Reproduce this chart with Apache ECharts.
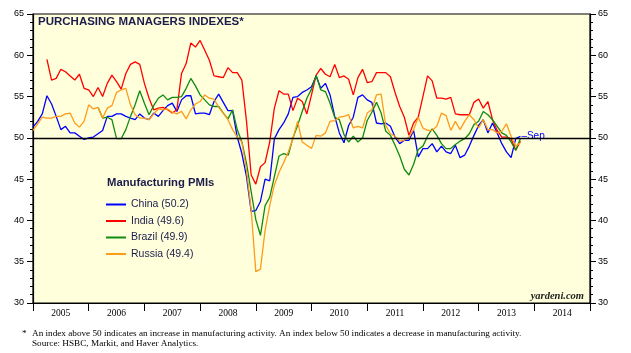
<!DOCTYPE html>
<html>
<head>
<meta charset="utf-8">
<script src="https://cdn.jsdelivr.net/npm/echarts@6/dist/echarts.min.js"></script>
<style>
  html, body { margin: 0; padding: 0; background: #fff; }
  #chart { width: 631px; height: 353px; }
</style>
</head>
<body>
<div id="chart"></div>
<script>
// monthly readings, first entry = Dec 2004, plotted at month end
const FIRST_YEAR = 2004;
const FIRST_MONTH = 12;

const yearLabels = ["2005", "2006", "2007", "2008", "2009", "2010", "2011", "2012", "2013", "2014"];

const china = [
  51.3,
  52.0, 52.9, 55.1, 54.1, 52.6, 51.0, 51.4, 50.6, 50.6, 50.2, 49.8, 50.0, // 2005
  50.1, 50.5, 50.9, 52.6, 52.6, 52.9, 52.9, 52.6, 52.4, 52.2, 52.9, 52.4, // 2006
  52.2, 53.0, 52.6, 53.3, 53.9, 54.2, 53.2, 54.6, 55.1, 55.1, 52.9, 53.0, // 2007
  53.0, 52.8, 54.4, 55.3, 54.3, 53.3, 53.3, 50.1, 48.1, 45.3, 41.1, 41.2, // 2008
  42.3, 45.0, 44.8, 49.9, 51.0, 51.8, 52.9, 54.9, 55.0, 55.5, 55.8, 56.2, // 2009
  57.5, 56.0, 56.6, 55.2, 52.6, 50.6, 49.4, 51.5, 52.5, 54.9, 55.2, 54.6, // 2010
  54.3, 51.8, 51.7, 51.8, 51.4, 50.1, 49.3, 49.7, 49.7, 50.9, 47.7, 48.7, // 2011
  48.7, 49.3, 48.3, 49.0, 48.3, 48.1, 49.1, 47.6, 47.9, 49.0, 50.3, 51.5, // 2012
  52.2, 50.6, 51.8, 50.6, 49.3, 48.3, 47.6, 49.9, 50.2                    // 2013
];

const india = [
  null,
  null, null, 59.5, 57.0, 57.2, 58.3, 58.0, 57.5, 57.0, 57.7, 56.0, 55.8,
  55.0, 56.1, 55.0, 56.6, 57.6, 56.8, 55.9, 57.8, 58.9, 59.2, 58.9, 56.6,
  54.8, 53.4, 53.6, 53.7, 53.4, 53.0, 53.4, 57.8, 59.0, 61.5, 61.0, 61.8,
  60.6, 59.4, 57.5, 57.4, 57.3, 58.5, 57.9, 57.9, 57.0, 52.0, 45.5, 44.4,
  46.5, 47.0, 49.5, 53.6, 55.7, 55.3, 55.3, 53.3, 54.8, 54.4, 52.9, 55.2,
  57.6, 58.4, 57.7, 57.4, 58.9, 57.3, 57.5, 57.1, 55.2, 57.3, 58.3, 56.7,
  56.8, 57.9, 57.9, 57.9, 57.4, 55.5, 53.8, 52.5, 50.3, 51.8, 52.5, 55.0,
  57.5, 56.9, 54.8, 54.8, 54.7, 54.9, 52.9, 52.8, 52.8, 52.8, 54.3, 54.7,
  53.6, 54.4, 52.2, 50.9, 50.1, 50.1, 49.9, 48.5, 49.6
];

const brazil = [
  null,
  null, null, null, null, null, null, null, null, null, null, null, null,
  null, 53.7, 52.4, 52.5, 52.2, 49.9, 49.9, 51.0, 52.6, 54.0, 55.7, 54.2,
  52.8, 53.9, 54.8, 55.2, 54.6, 54.9, 54.9, 55.0, 56.0, 57.2, 56.3, 55.2,
  54.6, 54.0, 53.8, 53.8, 53.0, 52.3, 53.4, 51.0, 49.5, 46.9, 43.5, 40.1,
  38.2, 41.8, 42.8, 45.3, 47.8, 48.1, 47.9, 50.0, 51.5, 53.2, 54.8, 55.9,
  57.6, 55.8, 55.6, 54.2, 52.5, 52.2, 50.4, 49.5, 50.2, 49.5, 50.0, 52.1,
  53.1, 54.3, 53.0, 50.8, 50.3, 49.1, 47.8, 46.2, 45.5, 46.8, 48.6, 49.0,
  50.2, 51.1, 50.3, 49.3, 48.7, 48.7, 49.2, 49.6, 49.9, 50.5, 51.6, 52.0,
  53.2, 52.8, 52.2, 51.4, 50.6, 50.3, 49.5, 48.5, 49.9
];

const russia = [
  50.9,
  51.7, 52.5, 52.4, 52.4, 52.6, 52.6, 52.9, 53.0, 51.8, 51.3, 52.0, 54.0,
  53.5, 53.7, 52.4, 53.6, 53.9, 55.5, 55.8, 56.0, 54.0, 52.8, 52.4, 52.4,
  52.2, 52.9, 53.5, 53.4, 53.5, 53.1, 52.9, 53.2, 52.3, 53.4, 54.1, 54.4,
  55.2, 54.8, 54.7, 53.7, 53.0, 52.2, 51.0, 50.1, 49.5, 46.1, 41.3, 33.8,
  34.1, 38.8, 41.8, 44.3, 45.8, 47.0, 48.3, 49.9, 52.0, 49.5, 49.1, 48.7,
  50.3, 50.2, 50.6, 52.0, 52.1, 52.5, 52.6, 52.8, 51.2, 51.4, 51.2, 53.0,
  53.4, 55.2, 55.3, 51.5, 50.5, 50.2, 49.6, 49.7, 50.1, 51.0, 52.5, 51.2,
  50.9, 50.9, 51.4, 53.0, 52.7, 50.9, 52.0, 51.0, 52.0, 52.8, 52.2, 51.2,
  52.2, 51.0, 51.0, 50.6, 50.8, 51.7, 50.2, 49.0, 49.4
];

const seriesNames = ["China (50.2)", "India (49.6)", "Brazil (49.9)", "Russia (49.4)"];
const seriesColors = ["#0000ff", "#ff0000", "#118a11", "#ff9b1a"];

const INK = "#1c1c4c";
const SANS = "Liberation Sans";
const SERIF = "Liberation Serif";

function toPoints(values) {
  return values
    .map((v, i) => [FIRST_YEAR + (FIRST_MONTH + i) / 12, v])
    .filter((p) => p[1] !== null);
}

const chart = echarts.init(document.getElementById("chart"), null, { renderer: "canvas" });

const yAxisBase = {
  type: "value",
  min: 30,
  max: 65,
  interval: 5,
  axisLine: { show: true, lineStyle: { color: "#000", width: 1.2 } },
  axisTick: { show: true, length: 6, lineStyle: { color: "#000" } },
  minorTick: { show: true, splitNumber: 5, length: 3, lineStyle: { color: "#000" } },
  splitLine: { show: false },
  minorSplitLine: { show: false },
  axisLabel: { fontSize: 9, color: "#000", fontFamily: SANS },
};

const lines = [china, india, brazil, russia].map((vals, i) => {
  const s = {
    name: seriesNames[i],
    type: "line",
    xAxisIndex: 1,
    yAxisIndex: 0,
    data: toPoints(vals),
    showSymbol: false,
    symbol: "none",
    color: seriesColors[i],
    lineStyle: { width: 1.3, color: seriesColors[i] },
    silent: true,
  };
  if (i === 0) {
    s.endLabel = {
      show: true,
      formatter: "\u2013Sep",
      color: seriesColors[0],
      fontSize: 10,
      fontFamily: SANS,
      distance: 1,
    };
    s.markLine = {
      silent: true,
      symbol: "none",
      label: { show: false },
      lineStyle: { color: "#000", type: "solid", width: 1.3 },
      data: [{ yAxis: 50 }],
    };
  }
  return s;
});

chart.setOption({
  animation: false,
  backgroundColor: "#fff",
  grid: {
    left: 33,
    right: 41,
    top: 14,
    bottom: 50,
    show: true,
    backgroundColor: "#ffffdc",
    borderColor: "#000",
    borderWidth: 1.2,
  },
  title: [
    {
      text: "PURCHASING MANAGERS INDEXES*",
      left: 38,
      top: 16,
      padding: 0,
      textStyle: { fontSize: 11.5, fontWeight: "bold", color: INK, fontFamily: SANS },
    },
    {
      text: "Manufacturing PMIs",
      left: 107,
      top: 177,
      padding: 0,
      textStyle: { fontSize: 11.3, fontWeight: "bold", color: INK, fontFamily: SANS },
    },
    {
      text: "yardeni.com",
      right: 47,
      top: 291,
      padding: 0,
      textStyle: { fontSize: 10.5, fontWeight: "bold", fontStyle: "italic", color: "#222", fontFamily: SERIF },
    },
    {
      text: "*",
      left: 22,
      top: 329,
      padding: 0,
      textStyle: { fontSize: 9.2, fontWeight: "normal", color: "#000", fontFamily: SERIF },
    },
    {
      text: "An index above 50 indicates an increase in manufacturing activity. An index below 50 indicates a decrease in manufacturing activity.\nSource: HSBC, Markit, and Haver Analytics.",
      left: 32,
      top: 329,
      padding: 0,
      textStyle: { fontSize: 9.2, fontWeight: "normal", lineHeight: 9.5, color: "#000", fontFamily: SERIF },
    },
  ],
  legend: {
    orient: "vertical",
    left: 106,
    top: 198,
    padding: 0,
    itemWidth: 20,
    itemHeight: 2,
    itemGap: 3.5,
    icon: "rect",
    selectedMode: false,
    data: seriesNames,
    textStyle: { fontSize: 10.5, color: INK, fontFamily: SANS, lineHeight: 13 },
  },
  xAxis: [
    {
      type: "category",
      data: yearLabels,
      position: "bottom",
      boundaryGap: true,
      axisLine: { show: true, lineStyle: { color: "#000", width: 1.2 } },
      axisTick: { show: true, length: 8, lineStyle: { color: "#000" } },
      axisLabel: { fontSize: 9.5, color: "#000", fontFamily: SERIF, margin: 5 },
      splitLine: { show: false },
    },
    {
      type: "value",
      min: 2005,
      max: 2015,
      show: false,
      splitLine: { show: false },
    },
  ],
  yAxis: [
    Object.assign({}, yAxisBase, {
      position: "left",
      axisLabel: Object.assign({}, yAxisBase.axisLabel, { margin: 9 }),
    }),
    Object.assign({}, yAxisBase, {
      position: "right",
      axisLabel: Object.assign({}, yAxisBase.axisLabel, { margin: 8 }),
    }),
  ],
  series: lines,
});

window.addEventListener("resize", () => chart.resize());
</script>
</body>
</html>
